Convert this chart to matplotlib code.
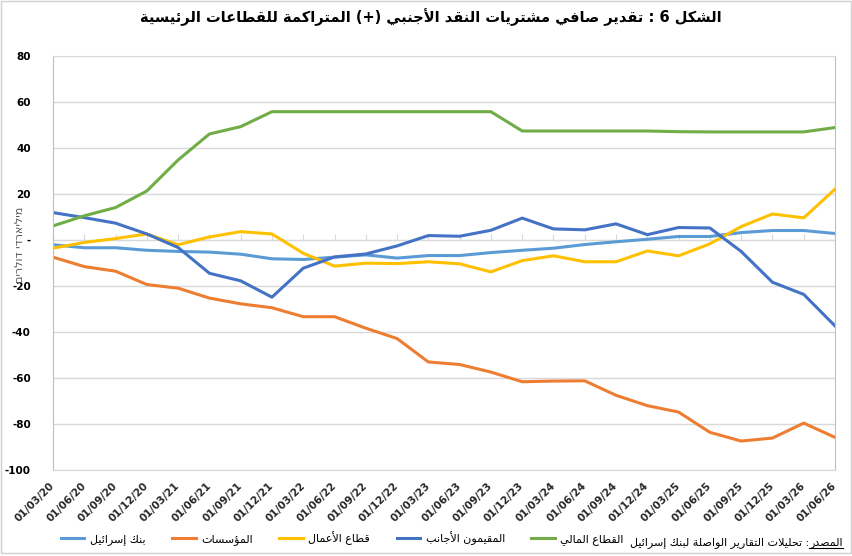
import matplotlib
matplotlib.use('Agg')
import matplotlib.pyplot as plt
from matplotlib.patches import Rectangle
from matplotlib.lines import Line2D
import numpy as np

# Quarterly dates (category axis)
dates = ['01/03/20', '01/06/20', '01/09/20', '01/12/20', '01/03/21', '01/06/21',
         '01/09/21', '01/12/21', '01/03/22', '01/06/22', '01/09/22', '01/12/22',
         '01/03/23', '01/06/23', '01/09/23', '01/12/23', '01/03/24', '01/06/24',
         '01/09/24', '01/12/24', '01/03/25', '01/06/25', '01/09/25', '01/12/25',
         '01/03/26', '01/06/26']

# Cumulative net FX purchases by sector (billions of dollars)
bank_of_israel = [-2.0, -3.3, -3.3, -4.4, -4.9, -5.2, -6.1, -8.1, -8.4, -7.4,
                  -6.4, -7.8, -6.7, -6.7, -5.4, -4.4, -3.5, -1.9, -0.7, 0.4,
                  1.6, 1.6, 3.3, 4.2, 4.2, 2.9]
institutions = [-7.4, -11.5, -13.5, -19.3, -20.9, -25.2, -27.7, -29.4, -33.3, -33.3,
                -38.3, -42.8, -53.0, -54.1, -57.4, -61.6, -61.3, -61.2, -67.5, -72.0,
                -74.8, -83.6, -87.4, -86.1, -79.6, -85.8]
business = [-3.5, -1.0, 0.7, 2.7, -2.0, 1.4, 3.7, 2.7, -5.7, -11.3,
            -10.0, -10.2, -9.4, -10.3, -13.8, -8.9, -6.8, -9.4, -9.4, -4.7,
            -6.8, -1.6, 5.9, 11.4, 9.7, 22.2]
foreign_residents = [12.0, 9.8, 7.4, 2.7, -3.2, -14.4, -17.7, -24.8, -12.2, -7.3,
                     -6.0, -2.5, 2.0, 1.7, 4.3, 9.6, 4.9, 4.5, 7.1, 2.4,
                     5.5, 5.3, -4.9, -18.3, -23.6, -37.3]
financial_sector = [6.2, 10.6, 14.2, 21.4, 34.9, 46.2, 49.4, 55.9, 55.9, 55.9,
                    55.9, 55.9, 55.9, 55.9, 55.9, 47.5, 47.5, 47.5, 47.5, 47.5,
                    47.2, 47.1, 47.1, 47.1, 47.1, 49.0]

series_names = ['بنك إسرائيل', 'المؤسسات', 'قطاع الأعمال', 'المقيمون الأجانب', 'القطاع المالي']
series_colors = ['#5B9BD5', '#ED7D31', '#FFC000', '#4472C4', '#70AD47']

y_ticks = [-100, -80, -60, -40, -20, 0, 20, 40, 60, 80]
y_tick_labels = ['-100', '-80', '-60', '-40', '-20', '-', '20', '40', '60', '80']

title_text = 'الشكل 6 : تقدير صافي مشتريات النقد الأجنبي (+) المتراكمة للقطاعات الرئيسية'
ylabel_text = 'מיליארדי דולרים'
source_head = 'المصدر'
source_rest = ': تحليلات التقارير الواصلة لبنك إسرائيل'

# --- minimal Arabic shaping (presentation forms) + visual reordering ---
AR_FORMS = {
    'ء': (0xFE80, 1), 'آ': (0xFE81, 2), 'أ': (0xFE83, 2), 'ؤ': (0xFE85, 2),
    'إ': (0xFE87, 2), 'ئ': (0xFE89, 4), 'ا': (0xFE8D, 2), 'ب': (0xFE8F, 4),
    'ة': (0xFE93, 2), 'ت': (0xFE95, 4), 'ث': (0xFE99, 4), 'ج': (0xFE9D, 4),
    'ح': (0xFEA1, 4), 'خ': (0xFEA5, 4), 'د': (0xFEA9, 2), 'ذ': (0xFEAB, 2),
    'ر': (0xFEAD, 2), 'ز': (0xFEAF, 2), 'س': (0xFEB1, 4), 'ش': (0xFEB5, 4),
    'ص': (0xFEB9, 4), 'ض': (0xFEBD, 4), 'ط': (0xFEC1, 4), 'ظ': (0xFEC5, 4),
    'ع': (0xFEC9, 4), 'غ': (0xFECD, 4), 'ف': (0xFED1, 4), 'ق': (0xFED5, 4),
    'ك': (0xFED9, 4), 'ل': (0xFEDD, 4), 'م': (0xFEE1, 4), 'ن': (0xFEE5, 4),
    'ه': (0xFEE9, 4), 'و': (0xFEED, 2), 'ى': (0xFEEF, 2), 'ي': (0xFEF1, 4),
}
LAM_ALEF = {'آ': 0xFEF5, 'أ': 0xFEF7, 'إ': 0xFEF9, 'ا': 0xFEFB}


def ar(s):
    items = []
    i = 0
    while i < len(s):
        if s[i] == 'ل' and i + 1 < len(s) and s[i + 1] in LAM_ALEF:
            items.append(('LA', s[i + 1]))
            i += 2
        else:
            items.append(s[i])
            i += 1

    def joins_after(it):
        return not isinstance(it, tuple) and it in AR_FORMS and AR_FORMS[it][1] == 4

    def joins_before(it):
        return isinstance(it, tuple) or (it in AR_FORMS and AR_FORMS[it][1] > 1)

    out = []
    for k, it in enumerate(items):
        prev = items[k - 1] if k > 0 else None
        nxt = items[k + 1] if k + 1 < len(items) else None
        lp = prev is not None and joins_after(prev) and joins_before(it)
        ln = nxt is not None and joins_after(it) and joins_before(nxt)
        if isinstance(it, tuple):
            out.append(chr(LAM_ALEF[it[1]] + (1 if lp else 0)))
        elif it in AR_FORMS:
            base, n = AR_FORMS[it]
            if n == 4:
                off = 3 if (lp and ln) else 1 if lp else 2 if ln else 0
            elif n == 2:
                off = 1 if lp else 0
            else:
                off = 0
            out.append(chr(base + off))
        else:
            out.append(it)
    vis = ''.join(out)[::-1]
    return vis.translate(str.maketrans('()', ')('))


plt.rcParams['font.family'] = ['DejaVu Sans']

fig = plt.figure(figsize=(8.53, 5.56), dpi=100)
ax = fig.add_axes([53 / 853, 1 - 470 / 556, (835 - 53) / 853, (470 - 56.3) / 556])

x = np.arange(len(dates))
all_series = [bank_of_israel, institutions, business, foreign_residents, financial_sector]
for vals, name, col in zip(all_series, series_names, series_colors):
    ax.plot(x, vals, color=col, linewidth=2.2, label=ar(name), solid_joinstyle='round')

ax.set_xlim(0, len(dates) - 1)
ax.set_ylim(-100, 80)
ax.set_yticks(y_ticks)
ax.set_yticklabels(y_tick_labels, fontsize=7.5, fontweight='bold')
ax.yaxis.grid(True, color='#d9d9d9', linewidth=1)
ax.set_axisbelow(True)
ax.tick_params(axis='y', length=0, pad=16)

ax.set_xticks(x)
ax.set_xticklabels(dates, rotation=45, ha='right', va='center', rotation_mode='anchor',
                   fontsize=7.5, fontweight='bold', color='#262626')
ax.tick_params(axis='x', length=0, pad=10)

for side in ['top', 'bottom']:
    ax.spines[side].set_color('#d9d9d9')
for side in ['left', 'right']:
    ax.spines[side].set_color('#bfbfbf')

# category axis line crossing at zero, with small tick marks
zero_pos = (0 - (-100)) / 180
sec = ax.secondary_xaxis(zero_pos)
sec.set_xticks(x)
sec.tick_params(axis='x', direction='out', length=4, color='#d9d9d9', labelbottom=False,
                labeltop=False)
sec.spines['bottom'].set_color('#d9d9d9')
sec.spines['top'].set_color('#d9d9d9')

fig.text(20 / 853, 1 - 245 / 556, ylabel_text[::-1], rotation=90, ha='center', va='center',
         fontsize=8, color='#595959')

fig.text(0.505, 1 - 17 / 556, ar(title_text), ha='center', va='center',
         fontsize=10.5, fontweight='bold')

leg = ax.legend(loc='center left', bbox_to_anchor=(61 / 853, 1 - 538 / 556),
                bbox_transform=fig.transFigure, ncol=5, frameon=False, fontsize=8,
                handlelength=2.1, handletextpad=0.5, columnspacing=2.4, borderaxespad=0,
                borderpad=0)

# source note with underlined heading
renderer = fig.canvas.get_renderer()
head = fig.text(843 / 853, 1 - 543 / 556, ar(source_head), ha='right', va='center', fontsize=8)
bb = head.get_window_extent(renderer).transformed(fig.transFigure.inverted())
fig.add_artist(Line2D([bb.x0, bb.x1], [bb.y0, bb.y0], transform=fig.transFigure,
                      color='black', linewidth=0.8))
fig.text(bb.x0, 1 - 543 / 556, ar(source_rest), ha='right', va='center', fontsize=8)

fig.patches.append(Rectangle((1 / 853, 1 - 553 / 556), 850 / 853, 552 / 556,
                             transform=fig.transFigure, fill=False,
                             edgecolor='#d0d0d0', linewidth=1))

fig.savefig('out.png', dpi=100)
plt.close(fig)
